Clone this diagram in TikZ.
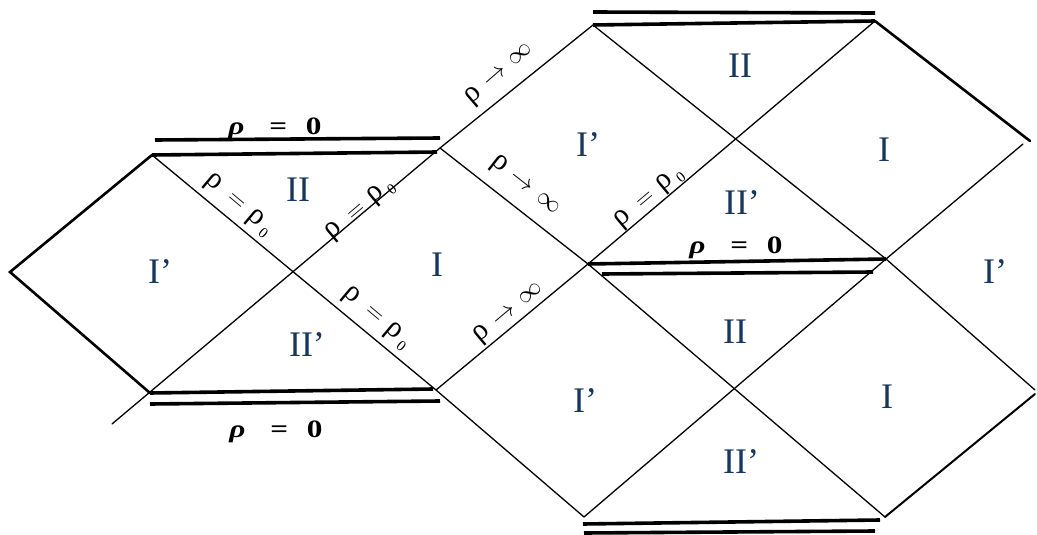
\documentclass[tikz,border=0pt]{standalone}
\usepackage{fontspec}
\setmainfont{Liberation Serif}
\definecolor{regblue}{RGB}{23,55,94}
\tikzset{
  thinline/.style={line width=1.3pt, line cap=round},
  thickline/.style={line width=2.6pt, line cap=round},
  wall/.style={line width=3.6pt},
  region/.style={text=regblue, font=\fontsize{36}{40}\selectfont, inner sep=0pt},
  rholab/.style={font=\fontsize{30}{32}\selectfont, inner sep=0pt},
  zerolab/.style={font=\bfseries\fontsize{25}{30}\selectfont, inner sep=0pt},
}
\newcommand{\subzero}{\raisebox{-0.2em}{\fontsize{15}{15}\selectfont 0}}
\newcommand{\rhoeq}{ρ\hspace{0.45em}\ensuremath{=}\hspace{0.3em}ρ\hspace{0.14em}\subzero}
\newcommand{\rhoinf}{ρ\hspace{0.3em}\ensuremath{\to}\hspace{0.3em}\ensuremath{\infty}}
\newcommand{\rhozero}{\scalebox{1.25}[1]{\textit{ρ}\hspace{0.8em}=\hspace{0.6em}0}}
\begin{document}
\begin{tikzpicture}[x=1pt,y=-1pt]
\useasboundingbox (0,0) rectangle (1037,535);
% vertices
\coordinate (L)  at (10,272);
\coordinate (T1) at (152,155);
\coordinate (B1) at (150,393);
\coordinate (T2) at (440,148);
\coordinate (B2) at (436,390);
\coordinate (tail) at (112,424);
\coordinate (T3) at (593,25);
\coordinate (M3) at (588,264);
\coordinate (B3) at (584,517);
\coordinate (T4) at (875,21);
\coordinate (M4) at (886,259);
\coordinate (B4) at (885,517);
\coordinate (R1) at (1030,141);
\coordinate (R1b) at (1023,144);
\coordinate (R2) at (1035,390);
\coordinate (R2b) at (1035,394);
% wall end points
\coordinate (wa1) at (155,140);  \coordinate (wa2) at (440,138);
\coordinate (wb2) at (437,152);
\coordinate (wc2) at (433,389);
\coordinate (wd1) at (150,404);  \coordinate (wd2) at (440,401);
\coordinate (we1) at (593,12);   \coordinate (we2) at (875,13);
\coordinate (wf1) at (602,274);  \coordinate (wf2) at (873,272);
\coordinate (wg1) at (583,524);  \coordinate (wg2) at (880,520);
\coordinate (wh1) at (584,533);  \coordinate (wh2) at (875,531);
% thick outer edges
\draw[thickline] (T1) -- (L) -- (B1);
\draw[thickline] (T4) -- (R1);
% thin null lines
\draw[thinline] (T1) -- (B2);
\draw[thinline] (T2) -- (tail);
\draw[thinline] (T2) -- (T3);
\draw[thinline] (T2) -- (M3);
\draw[thinline] (B2) -- (M3);
\draw[thinline] (B2) -- (B3);
\draw[thinline] (T3) -- (M4);
\draw[thinline] (T4) -- (M3);
\draw[thinline] (M3) -- (B4);
\draw[thinline] (M4) -- (B3);
\draw[thinline] (R1b) -- (M4);
\draw[thinline] (M4) -- (R2);
\draw[thinline, line width=2pt] (R2b) -- (B4);
% singularities rho = 0 (double lines)
\draw[wall] (wa1) -- (wa2);
\draw[wall] (T1) -- (wb2);
\draw[wall] (B1) -- (wc2);
\draw[wall] (wd1) -- (wd2);
\draw[wall] (we1) -- (we2);
\draw[wall] (T3) -- (T4);
\draw[wall] (M3) -- (M4);
\draw[wall] (wf1) -- (wf2);
\draw[wall] (wg1) -- (wg2);
\draw[wall] (wh1) -- (wh2);
% rho = 0 labels
\node[zerolab, anchor=base] (z1) at (275,134) {\rhozero};
\node[zerolab, anchor=base] (z2) at (276,437) {\rhozero};
\node[zerolab, anchor=base] (z3) at (736,253) {\rhozero};
% sloped labels
\node[rholab, rotate=-40] (q1) at (238,205) {\rhoeq};
\node[rholab, rotate=40]  (q2) at (360,210) {\rhoeq};
\node[rholab, rotate=-40] (q3) at (376,318) {\rhoeq};
\node[rholab, rotate=40]  (q4) at (649,198) {\rhoeq};
\node[rholab, rotate=41]  (p1) at (500,74) {\rhoinf};
\node[rholab, rotate=-38] (p2) at (525,186) {\rhoinf};
\node[rholab, rotate=40]  (p3) at (509,313) {\rhoinf};
% region labels
\node[region] (r1)  at (160,272) {I’};
\node[region] (r2)  at (298,190) {II};
\node[region] (r3)  at (307,345) {II’};
\node[region] (r4)  at (437,265) {I};
\node[region] (r5)  at (588,145) {I’};
\node[region] (r6)  at (740,66)  {II};
\node[region] (r7)  at (884,150) {I};
\node[region] (r8)  at (742,203) {II’};
\node[region] (r9)  at (995,272) {I’};
\node[region] (r10) at (735,332) {II};
\node[region] (r11) at (585,401) {I’};
\node[region] (r12) at (887,397) {I};
\node[region] (r13) at (741,462) {II’};
\end{tikzpicture}
\end{document}
